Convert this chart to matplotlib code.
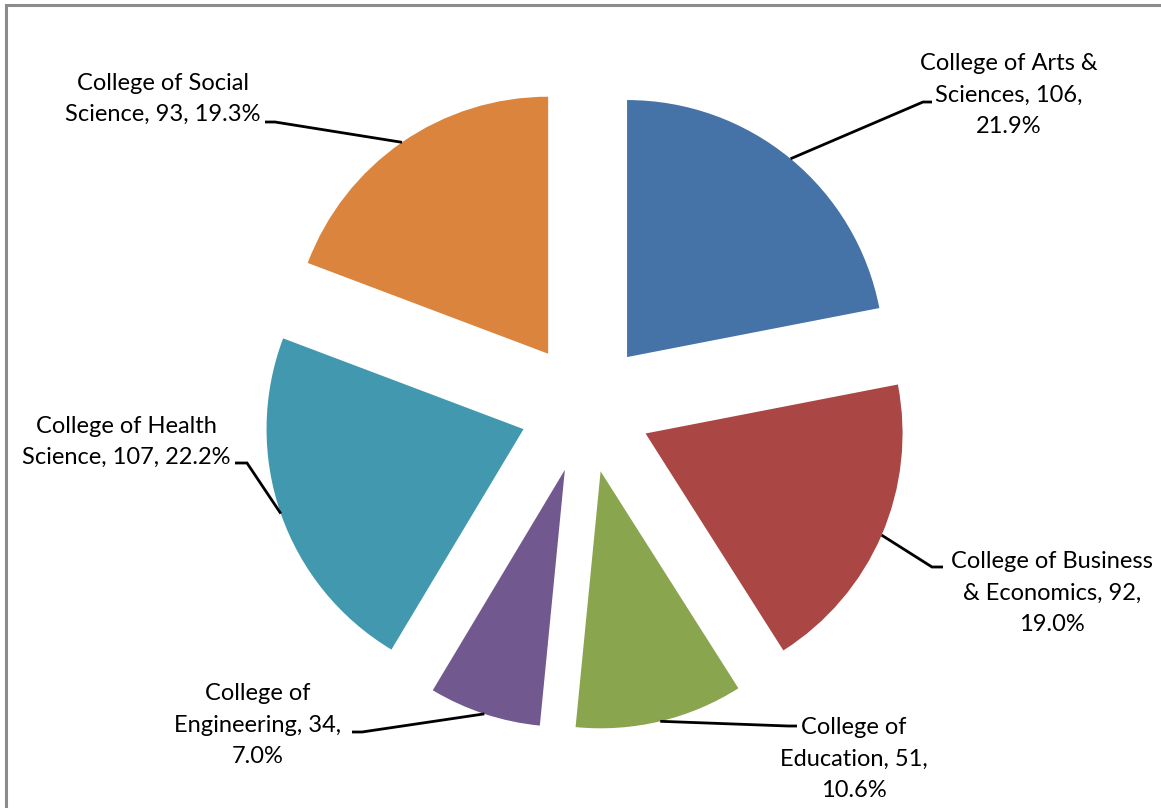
import textwrap
import numpy as np
import matplotlib
matplotlib.use("Agg")
import matplotlib.pyplot as plt
from matplotlib.patches import Rectangle

# data
colleges = ["College of Arts & Sciences", "College of Business & Economics",
            "College of Education", "College of Engineering",
            "College of Health Science", "College of Social Science"]
counts = [106, 92, 51, 34, 107, 93]
colors = ["#4572A7", "#AA4643", "#89A54E", "#71588F", "#4198AF", "#DB843D"]

W, H = 1161, 808

def px(x, y):
    # picture pixel coords (y down) -> data coords (y up)
    return x, H - y

fig = plt.figure(figsize=(W / 100, H / 100), dpi=100)
ax = fig.add_axes([0, 0, 1, 1])

cx, cy = px(585.4, 407.6)
radius = 257
wedges, _ = ax.pie(counts, colors=colors, startangle=90, counterclock=False,
                   explode=[65.5] * len(counts), radius=radius, center=(cx, cy),
                   wedgeprops=dict(linewidth=0))
ax.set_xlim(0, W)
ax.set_ylim(0, H)
ax.set_aspect("auto")
ax.axis("off")

# label block centre, leader end (at text) and elbow, in picture pixels
label_pos = [(1009, 95), (1052, 593), (854, 759), (258, 725), (126, 442), (163, 99)]
leader_end = [(932, 102), (943, 567), (797, 726), (352, 732), (235, 463), (265, 122)]
leader_elbow = [(923, 102), (932, 567), (788, 726), (362, 732), (247, 463), (275, 122)]

total = sum(counts)
for w, name, n, lp, le, lb in zip(wedges, colleges, counts, label_pos, leader_end, leader_elbow):
    pct = n / total * 100
    txt = "\n".join(textwrap.wrap(f"{name}, {n}, {pct:.1f}%", 19))
    ax.text(*px(*lp), txt, ha="center", va="center", fontsize=17,
            family="Lato", linespacing=1.6, color="#000000")
    mid = np.deg2rad((w.theta1 + w.theta2) / 2)
    sx = w.center[0] + w.r * np.cos(mid)
    sy = w.center[1] + w.r * np.sin(mid)
    ex, ey = px(*le)
    bx, by = px(*lb)
    ax.plot([sx, bx, ex], [sy, by, ey], color="black", lw=2,
            solid_capstyle="butt", solid_joinstyle="miter")

# chart-area border (cropped at right and bottom)
fig.patches.append(Rectangle((6 / W, -0.1), 1.2, 1 - 5 / H + 0.1,
                             transform=fig.transFigure, fill=False,
                             edgecolor="#8c8c8c", lw=2.2))

fig.savefig("out.png", dpi=100)
